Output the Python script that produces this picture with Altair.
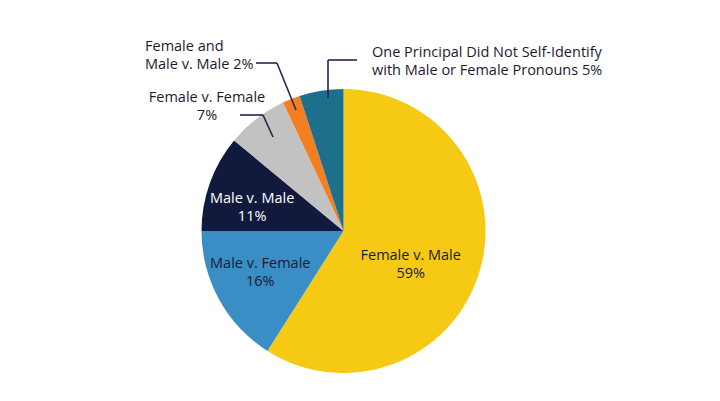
import pandas as pd
import altair as alt

# ── dados ────────────────────────────────────────────────────────────────
categorias = [
    "Female v. Male",
    "Male v. Female",
    "Male v. Male",
    "Female v. Female",
    "Female and Male v. Male",
    "One Principal Did Not Self-Identify with Male or Female Pronouns",
]
valores = [59, 16, 11, 7, 2, 5]
cores = ["#F6C915", "#3A8EC6", "#111A3D", "#C2C2C2", "#F37F22", "#1D6F8B"]

df = pd.DataFrame({"cat": categorias, "valor": valores, "ordem": list(range(len(categorias)))})

# centro e raio da pizza (pixels do gráfico)
CX, CY, R = 335.5, 223, 142
FONTE = "Open Sans"
TAM = 14.5
PESO = 500
COR_TXT = "#1b1b2f"
COR_LINHA = "#2e2152"

base = alt.Chart(df).encode(
    theta=alt.Theta("valor:Q", stack=True),
    order=alt.Order("ordem:Q"),
    x=alt.value(CX),
    y=alt.value(CY),
)

pizza = base.mark_arc(outerRadius=R).encode(
    color=alt.Color("cat:N", scale=alt.Scale(domain=categorias, range=cores), legend=None)
)


def rotulo_interno(nome, raio, dx, dy, cor):
    return base.transform_calculate(
        rot=f"datum.cat == '{nome}' ? datum.cat + '\\n' + datum.valor + '%' : ''"
    ).mark_text(
        radius=raio, dx=dx, dy=dy, font=FONTE, fontSize=TAM, fontWeight=PESO,
        lineBreak="\n", lineHeight=18, color=cor,
    ).encode(text="rot:N")


txt_fm = rotulo_interno("Female v. Male", 70, 0, 5, COR_TXT)
txt_mf = rotulo_interno("Male v. Female", 95, 0, -13, COR_TXT)
txt_mm = rotulo_interno("Male v. Male", 95, -2, 0, "white")

# rótulos externos (anotações)
ext = pd.DataFrame({
    "txt": ["Female and\nMale v. Male 2%",
            "Female v. Female\n7%",
            "One Principal Did Not Self-Identify\nwith Male or Female Pronouns 5%"],
    "px": [137, 199, 364],
    "py": [39, 90, 45],
    "al": ["left", "center", "left"],
})
rot_ext = []
for _, r in ext.iterrows():
    rot_ext.append(
        alt.Chart(pd.DataFrame({"t": [r["txt"]]}))
        .mark_text(font=FONTE, fontSize=TAM, fontWeight=PESO, lineBreak="\n", lineHeight=18,
                   align=r["al"], baseline="middle", color=COR_TXT)
        .encode(text="t:N", x=alt.value(r["px"]), y=alt.value(r["py"]))
    )

linhas = pd.DataFrame({
    "x1": [320, 320, 248, 269, 232, 255],
    "y1": [52, 52, 55, 55, 107, 107],
    "x2": [349, 320, 269, 288, 255, 265],
    "y2": [52, 90, 55, 102, 107, 129],
})
guias = alt.Chart(linhas).mark_rule(color=COR_LINHA, strokeWidth=1.6).encode(
    x=alt.X("x1:Q", scale=None),
    y=alt.Y("y1:Q", scale=None),
    x2="x2:Q",
    y2="y2:Q",
)

chart = alt.layer(pizza, txt_fm, txt_mf, txt_mm, guias, *rot_ext).properties(
    width=704, height=385, padding=0, autosize=alt.AutoSizeParams(type="none")
).configure_view(strokeWidth=0)

chart.save("out.html", embed_options={"renderer": "svg", "actions": False})
